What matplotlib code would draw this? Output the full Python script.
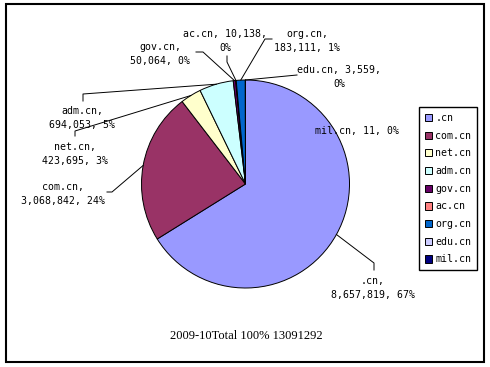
import matplotlib
matplotlib.use("Agg")
import matplotlib.pyplot as plt
import numpy as np
from matplotlib.patches import Rectangle

# data
names = ['.cn', 'com.cn', 'net.cn', 'adm.cn', 'gov.cn', 'ac.cn', 'org.cn', 'edu.cn', 'mil.cn']
counts = [8657819, 3068842, 423695, 694053, 50064, 10138, 183111, 3559, 11]
pcts = ['67%', '24%', '3%', '5%', '0%', '0%', '1%', '0%', '0%']
colors = ['#9999FF', '#993366', '#FFFFCC', '#CCFFFF', '#660066',
          '#FF8080', '#0066CC', '#CCCCFF', '#000080']
title = '2009-10Total 100% 13091292'

W, H = 490, 367
CX, CY, R = 245.5, 183.0, 104.0
MONO = 'DejaVu Sans Mono'
FS = 7.1


def py(y):
    # pixel row -> data y
    return H - y


fig = plt.figure(figsize=(W / 100, H / 100), dpi=100)
ax = fig.add_axes([0, 0, 1, 1])

# outer frame
ax.add_patch(Rectangle((6, py(362)), 478, 358, fill=False, ec='black', lw=1.5))

wedges, _ = ax.pie(counts, colors=colors, startangle=90, counterclock=False,
                   center=(CX, CY), radius=R, frame=True,
                   wedgeprops=dict(edgecolor='black', linewidth=0.7))
ax.set_xlim(0, W)
ax.set_ylim(0, H)
ax.axis('off')


def edge_point(w):
    ang = np.deg2rad((w.theta1 + w.theta2) / 2)
    return CX + R * np.cos(ang), CY + R * np.sin(ang)


def fmt(n):
    return f'{n:,}'


# label text, text centre (px), leader path points (px) ending at the wedge
labels = [
    (f'{names[0]},\n{fmt(counts[0])}, {pcts[0]}', (373, 288), [(374, 270), (374, 263)]),
    (f'{names[1]},\n{fmt(counts[1])}, {pcts[1]}', (63, 194), [(107, 192), (112, 192)]),
    (f'{names[2]},\n{fmt(counts[2])}, {pcts[2]}', (75, 154), [(75, 136), (75, 131)]),
    (f'{names[3]},\n{fmt(counts[3])}, {pcts[3]}', (82, 118), [(83, 101), (83, 94)]),
    (f'{names[4]},\n{fmt(counts[4])}, {pcts[4]}', (160, 54), [(196, 52), (203, 52)]),
    (f'{names[5]}, {fmt(counts[5])},\n{pcts[5]}', (225, 41), [(227, 56), (227, 62)]),
    (f'{names[6]},\n{fmt(counts[6])}, {pcts[6]}', (307, 41), [(272, 39), (265, 39)]),
    (f'{names[7]}, {fmt(counts[7])},\n{pcts[7]}', (339, 77), [(297, 75)]),
    (f'{names[8]}, {fmt(counts[8])}, {pcts[8]}', (357, 131), None),
]

for w, (txt, (tx, ty), path) in zip(wedges, labels):
    ax.text(tx, py(ty), txt, ha='center', va='center', fontsize=FS,
            family=MONO, linespacing=1.4)
    if path:
        ex, ey = edge_point(w)
        xs = [p[0] for p in path] + [ex]
        ys = [py(p[1]) for p in path] + [ey]
        ax.plot(xs, ys, color='black', lw=0.7)

ax.text(246, py(336), title, ha='center', va='center', fontsize=9,
        family='Liberation Serif')

leg = ax.legend(wedges, names, loc='upper left',
                bbox_to_anchor=(419, py(107)), bbox_transform=ax.transData,
                prop=dict(family=MONO, size=FS), frameon=True, fancybox=False,
                edgecolor='black', framealpha=1, handlelength=0.75,
                handleheight=0.75, handletextpad=0.3, labelspacing=0.78,
                borderpad=0.6, borderaxespad=0)
leg.get_frame().set_linewidth(1.0)

fig.savefig('out.png', dpi=100)
